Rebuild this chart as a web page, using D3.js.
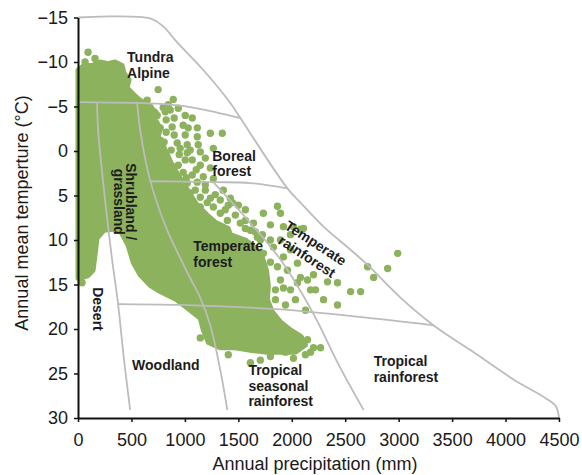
<!DOCTYPE html>
<html>
<head>
<meta charset="utf-8">
<script src="https://cdn.jsdelivr.net/npm/d3@7"></script>
<style>
    body { margin: 0; background: #fff; }
    svg { display: block; font-family: "Liberation Sans", Arial, sans-serif; }
</style>
</head>
<body>
<div id="chart"></div>
<script>
"use strict";

// axis ticks
var precipTicks = [0, 500, 1000, 1500, 2000, 2500, 3000, 3500, 4000, 4500];
var tempTicks = [-15, -10, -5, 0, 5, 10, 15, 20, 25, 30];

// biome boundaries (precipitation mm, temperature C)
var outerP = [0, 675, 797, 928, 1172, 1425, 1519, 1959, 2081, 2297, 2550, 2709, 3019, 3328, 3675, 4078, 4378, 4472, 4500];
var outerT = [-15, -14.9, -14.0, -12.2, -9.1, -5.4, -3.7, 4.2, 5.8, 8.5, 11.1, 12.8, 16.5, 19.6, 22.4, 25.7, 27.8, 28.7, 30];
var tundraP = [0, 553, 863, 1116, 1519];
var tundraT = [-5.5, -5.4, -5.2, -4.8, -3.7];
var borealP = [675, 1266, 1613, 1959];
var borealT = [3.4, 3.5, 3.6, 4.2];
var desertP = [178, 188, 253, 319, 375, 431, 488];
var desertT = [-5.5, -2.4, 5.5, 12.2, 17.2, 23.5, 29.1];
var woodP = [553, 581, 675, 834, 956, 1050, 1144, 1238, 1331, 1397];
var woodT = [-5.5, -2.4, 3.3, 8.9, 12.0, 14.3, 16.5, 19.6, 24.6, 29.1];
var rainP = [1266, 1584, 1894, 2203, 2438, 2672];
var rainT = [3.5, 7.7, 12.2, 18.3, 24.0, 29.1];
var tropP = [375, 956, 1894, 2831, 3328];
var tropT = [17.2, 17.3, 17.8, 18.9, 19.6];

// dense part of the site cloud (outline)
var cloudP = [0, 56, 131, 206, 281, 347, 413, 431, 478, 459, 516, 581, 638, 731, 722, 769, 750, 797, 844, 881,
    938, 994, 1050, 1116, 1209, 1284, 1406, 1425, 1566, 1659, 1725, 1763, 1781, 1772, 1819, 1894, 1988, 2081, 2128,
    2034, 1894, 1753, 1613, 1472, 1331, 1219, 1172, 1144, 1050, 919, 769, 675, 581, 516, 469, 403, 319, 244, 178,
    159, 141, 94, 19, 0];
var cloudT = [-9.1, -9.6, -9.6, -10.0, -9.8, -10.0, -9.6, -8.7, -8.0, -7.1, -6.4, -5.7, -5.3, -4.4, -3.5, -2.6, -1.5, -0.6, 0.6, 1.6,
    2.7, 3.8, 4.9, 6.1, 7.2, 8.0, 8.7, 9.4, 10.0, 10.9, 12.0, 13.4, 15.1, 16.7, 18.1, 19.2, 20.1, 20.8, 21.8,
    22.6, 22.6, 22.6, 22.4, 22.1, 22.1, 21.5, 20.1, 18.8, 17.9, 16.7, 15.8, 15.1, 13.9, 12.5, 10.6, 9.1, 8.8, 8.9, 9.8,
    11.7, 13.4, 14.0, 14.3, 14.3];

// scattered sites outside the dense part
var siteP = [94, 66, 159, 38, 750, 891, 647, 844, 675, 797, 863, 984, 1031, 1116, 1238, 1350, 1116, 741, 825, 900,
    713, 825, 900, 928, 806, 872, 947, 834, 900, 1022, 1125, 1266, 1022, 1144, 1069, 1144, 1238, 984, 1172, 1022,
    1116, 1266, 1359, 1425, 1444, 1050, 1144, 1209, 1266, 984, 1078, 1331, 1397, 1519, 1641, 1734, 1800, 1866, 1894, 2016,
    2081, 1922, 2109, 1678, 1828, 1734, 1922, 1866, 2053, 2081, 1894, 2053, 2175, 2147, 1988, 2297, 2428, 2550, 2644, 2428,
    2334, 2203, 2709, 2766, 2991, 2897, 1922, 1706, 1988, 1922, 1988, 2081, 2147, 2203, 2269, 1941, 2016, 1613, 1706, 1800,
    1144, 2175,
    769, 1003, 938, 1069, 769, 1003, 938, 1069, 956, 1097, 1191, 1238, 1331, 1144, 1378, 1472, 1566, 1613, 1725, 1800,
    1566, 1894, 1988, 1959, 1800, 1847, 1941, 2034, 2128, 2222, 1847, 2128, 1847, 1406,
    816, 881, 1003, 956, 1050, 1191, 1106, 1013, 1191, 1284, 1406, 1500, 1566, 1659];
var siteT = [-11.1, -10.0, -10.4, 14.8, -6.9, -5.8, -5.7, -5.2, -4.9, -4.9, -4.6, -2.9, -2.6, -2.6, -2.0, -2.0, -1.6, -4.0, -3.5, -3.7,
    -2.7, -2.1, -1.8, -0.9, -1.0, -0.1, 0.4, 1.0, 1.8, -0.7, -0.7, -0.3, 0.2, 0.1, 1.0, 1.6, 1.9, 2.4, 2.9, 3.6,
    3.5, 3.1, 4.4, 5.3, 5.8, 4.7, 5.2, 5.8, 6.3, 6.3, 7.0, 7.0, 7.8, 8.1, 8.1, 7.0, 8.3, 6.2, 7.0, 8.5,
    8.8, 8.5, 8.7, 9.7, 10.8, 11.5, 11.9, 13.0, 12.6, 14.2, 14.5, 14.8, 15.6, 14.5, 15.6, 16.7, 14.8, 15.8, 15.8, 17.3,
    14.7, 13.9, 13.0, 14.2, 11.5, 13.2, 15.4, 10.0, 11.1, 21.2, 20.9, 21.0, 21.2, 22.1, 22.1, 22.6, 23.3, 23.8, 23.5, 23.1,
    21.0, 22.6,
    -2.6, -4.0, -4.8, -3.7, -1.2, 1.0, 1.6, 2.7, 3.8, 4.4, 4.4, 5.3, 5.5, 6.3, 6.6, 7.2, 6.6, 8.9, 9.4, 10.0,
    8.7, 10.0, 9.4, 13.4, 12.5, 16.7, 17.3, 16.7, 17.9, 15.6, 15.6, 22.9, 21.8, 22.9,
    -4.4, -2.7, -1.8, -0.3, -0.1, 0.8, 2.1, 3.0, 3.8, 4.9, 6.1, 6.1, 7.8, 9.1];

// biome names, placed in data units
var biomeLabels = [
    { lines: ["Tundra", "Alpine"], p: 459, t: -9.6, angle: 0, anchor: "start", lh: 16 },
    { lines: ["Boreal", "forest"], p: 1256, t: 1.4, angle: 0, anchor: "start", lh: 15.5 },
    { lines: ["Shrubland /", "grassland"], p: 441, t: 5.7, angle: 90, anchor: "middle", lh: 12 },
    { lines: ["Temperate", "forest"], p: 1078, t: 11.6, angle: 0, anchor: "start", lh: 16 },
    { lines: ["Temperate", "rainforest"], p: 2184, t: 11.1, angle: 33, anchor: "middle", lh: 16 },
    { lines: ["Desert"], p: 188, t: 17.75, angle: 90, anchor: "middle", lh: 14 },
    { lines: ["Woodland"], p: 506, t: 24.0, angle: 0, anchor: "start", lh: 14 },
    { lines: ["Tropical", "seasonal", "rainforest"], p: 1594, t: 26.4, angle: 0, anchor: "start", lh: 15.5 },
    { lines: ["Tropical", "rainforest"], p: 2766, t: 24.5, angle: 0, anchor: "start", lh: 16 }
];

var W = 582, H = 475;
var GREEN = "#8db25d";

var svg = d3.select("#chart")
    .append("svg")
    .attr("width", W)
    .attr("height", H);

var x = d3.scaleLinear().domain([0, 4500]).range([78, 559]);
var y = d3.scaleLinear().domain([-15, 30]).range([17.5, 418]);

var zip = function (ps, ts) {
    return ps.map(function (p, i) { return [p, ts[i]]; });
};

// dense cloud
svg.append("path")
    .attr("d", d3.line()
        .x(function (d) { return x(d[0]); })
        .y(function (d) { return y(d[1]); })
        .curve(d3.curveLinearClosed)(zip(cloudP, cloudT)))
    .attr("fill", GREEN)
    .attr("stroke", GREEN)
    .attr("stroke-width", 5)
    .attr("stroke-linejoin", "round");

svg.append("g")
    .selectAll("circle")
    .data(zip(siteP, siteT))
    .enter()
    .append("circle")
    .attr("cx", function (d) { return x(d[0]); })
    .attr("cy", function (d) { return y(d[1]); })
    .attr("r", 3.7)
    .attr("fill", GREEN);

// boundaries
var boundary = d3.line()
    .x(function (d) { return x(d[0]); })
    .y(function (d) { return y(d[1]); })
    .curve(d3.curveCatmullRom.alpha(0.5));

[[outerP, outerT], [tundraP, tundraT], [borealP, borealT], [desertP, desertT],
    [woodP, woodT], [rainP, rainT], [tropP, tropT]].forEach(function (b) {
    svg.append("path")
        .attr("d", boundary(zip(b[0], b[1])))
        .attr("fill", "none")
        .attr("stroke", "#bcbcbc")
        .attr("stroke-width", 1.8);
});

// labels
biomeLabels.forEach(function (l) {
    var g = svg.append("g")
        .attr("transform", "translate(" + x(l.p) + "," + y(l.t) + ") rotate(" + l.angle + ")");
    l.lines.forEach(function (s, i) {
        g.append("text")
            .attr("x", 0)
            .attr("y", (i - (l.lines.length - 1) / 2) * l.lh)
            .attr("dy", "0.35em")
            .attr("text-anchor", l.anchor)
            .attr("font-size", 14)
            .attr("font-weight", "bold")
            .attr("fill", "#1c1c1c")
            .text(s);
    });
});

// axes
var xAxis = svg.append("g")
    .attr("transform", "translate(0," + y(30) + ")")
    .call(d3.axisBottom(x).tickValues(precipTicks).tickFormat(d3.format("d"))
        .tickSizeInner(4).tickSizeOuter(0).tickPadding(11));

var yAxis = svg.append("g")
    .attr("transform", "translate(" + x(0) + ",0)")
    .call(d3.axisLeft(y).tickValues(tempTicks).tickSizeInner(4).tickSizeOuter(0).tickPadding(6));

[xAxis, yAxis].forEach(function (a) {
    a.select(".domain").attr("stroke", "#111").attr("stroke-width", 2);
    a.selectAll(".tick line").attr("stroke", "#111").attr("stroke-width", 1.5);
    a.selectAll(".tick text")
        .attr("font-family", "'Liberation Sans', Arial, sans-serif")
        .attr("font-size", 18)
        .attr("fill", "#1a1a1a");
});

svg.append("text")
    .attr("x", 315)
    .attr("y", 470)
    .attr("text-anchor", "middle")
    .attr("font-size", 18)
    .attr("fill", "#1a1a1a")
    .text("Annual precipitation (mm)");

svg.append("text")
    .attr("transform", "translate(28,213) rotate(-90)")
    .attr("text-anchor", "middle")
    .attr("font-size", 18)
    .attr("fill", "#1a1a1a")
    .text("Annual mean temperture (°C)");
</script>
</body>
</html>
